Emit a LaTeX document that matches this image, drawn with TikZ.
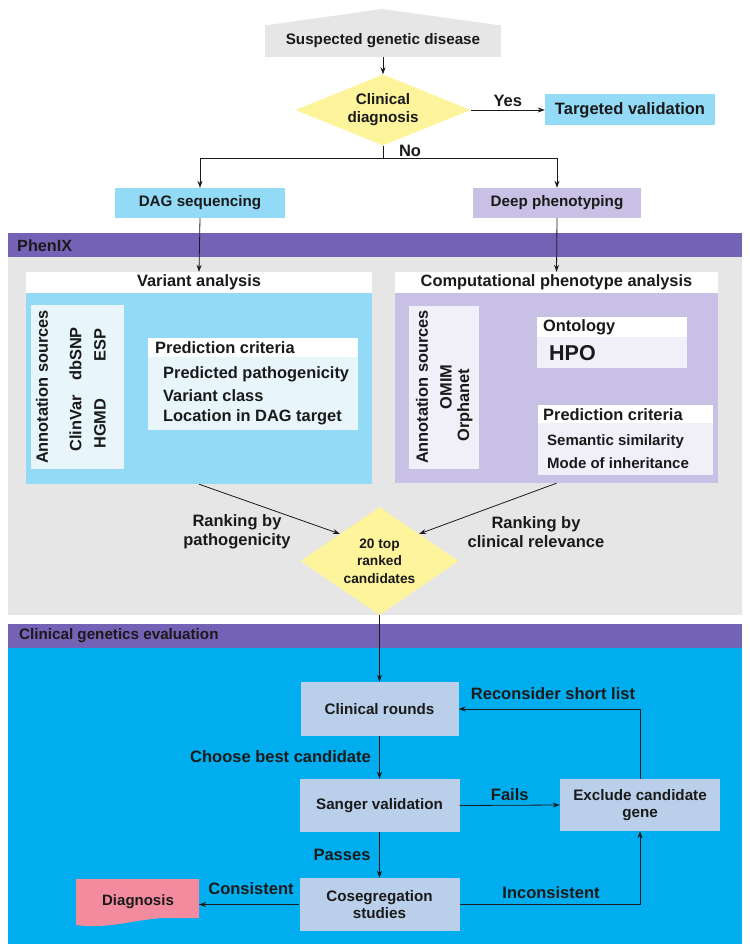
\documentclass[tikz,border=0pt]{standalone}
\usepackage{fontspec}
\setmainfont{Liberation Sans}
\usetikzlibrary{shapes.geometric,arrows.meta}
\definecolor{grayp}{HTML}{E6E6E6}
\definecolor{yel}{HTML}{FDF49C}
\definecolor{lblue}{HTML}{93DAF6}
\definecolor{lav}{HTML}{C9C1E5}
\definecolor{purp}{HTML}{7462B6}
\definecolor{pale}{HTML}{E8F6FC}
\definecolor{palelav}{HTML}{F1EFF8}
\definecolor{cyanp}{HTML}{00AEEF}
\definecolor{steel}{HTML}{B9CFEA}
\definecolor{pinkd}{HTML}{F38B9E}
\definecolor{txt}{HTML}{1A1A1A}
\begin{document}
\begin{tikzpicture}[x=1pt,y=-1pt,
  every node/.style={text=txt},
  box/.style={inner sep=0pt,align=center,font=\bfseries\fontsize{15.2}{17.5}\selectfont},
  lab/.style={inner sep=0pt,align=center,font=\bfseries\fontsize{16.5}{19}\selectfont},
  itxt/.style={inner sep=0pt,font=\bfseries\fontsize{16.4}{19}\selectfont},
  stxt/.style={inner sep=0pt,anchor=west,font=\bfseries\fontsize{15}{17}\selectfont},
  rtxt/.style={inner sep=0pt,rotate=90,font=\bfseries\fontsize{16.4}{19}\selectfont},
  dia/.style={shape=diamond,fill=yel,inner sep=0pt,align=center},
  arr/.style={-{Stealth[length=7pt,width=5pt]},line width=0.8pt,draw=txt},
  ln/.style={line width=0.8pt,draw=txt}
]
\useasboundingbox[fill=white] (0,0) rectangle (749,949);

% ---------- top section ----------
\fill[grayp] (265,25.5) -- (382,9) -- (501,25.5) -- cycle;
\node[box,fill=grayp,minimum width=236pt,minimum height=32pt] (sus) at (383,41) {Suspected genetic disease};
\node[dia,minimum width=175pt,minimum height=71pt,aspect=2.46,font=\bfseries\fontsize{15.2}{18}\selectfont] (cd) at (383,110) {Clinical\\diagnosis};
\node[box,fill=lblue,minimum width=170pt,minimum height=31pt,font=\bfseries\fontsize{16.5}{19}\selectfont] (tv) at (630,110) {Targeted validation};
\node[box,fill=lblue,minimum width=170pt,minimum height=30pt] (dag) at (200,203) {DAG sequencing};
\node[box,fill=lav,minimum width=168pt,minimum height=30pt] (deep) at (557,203) {Deep phenotyping};
\coordinate (nojoin) at (383,158);

% ---------- PhenIX panel ----------
\fill[purp] (8,233) rectangle (742,257);
\fill[grayp] (8,257) rectangle (742,615);
\node[itxt,anchor=west,font=\bfseries\fontsize{16.2}{19}\selectfont] (phx) at (17,245.5) {PhenIX};

% variant analysis
\node[itxt,fill=white,minimum width=346pt,minimum height=21pt] (vah) at (199,282.5) {Variant analysis};
\node[fill=lblue,inner sep=0pt,minimum width=346pt,minimum height=191pt] (vab) at (199,388.5) {};
\fill[pale] (31,305) rectangle (124,469);
\node[rtxt] (as1) at (42,387) {Annotation sources};
\node[rtxt,anchor=east] (dbsnp) at (75.5,327) {dbSNP};
\node[rtxt,anchor=west] (clinvar) at (75.5,452) {ClinVar};
\node[rtxt,anchor=east] (esp) at (100,328) {ESP};
\node[rtxt,anchor=west] (hgmd) at (100,449) {HGMD};
\fill[white] (148,338) rectangle (358,357);
\fill[pale] (148,357) rectangle (358,430);
\node[itxt,anchor=west] (pc1) at (155,348) {Prediction criteria};
\node[itxt,anchor=west] (pp) at (163,374) {Predicted pathogenicity};
\node[itxt,anchor=west] (vc) at (163,396) {Variant class};
\node[itxt,anchor=west] (loc) at (163,417) {Location in DAG target};

% computational phenotype analysis
\node[itxt,fill=white,minimum width=323pt,minimum height=21pt] (cph) at (556.5,282.5) {Computational phenotype analysis};
\node[fill=lav,inner sep=0pt,minimum width=323pt,minimum height=190pt] (cpb) at (556.5,388) {};
\fill[palelav] (409,306) rectangle (479,469);
\node[rtxt] (as2) at (422,387) {Annotation sources};
\node[rtxt] (omim) at (446,387) {OMIM};
\node[rtxt] (orph) at (465,405) {Orphanet};
\fill[white] (537,317) rectangle (687,337);
\fill[palelav] (537,337) rectangle (687,368);
\node[itxt,anchor=west] (ont) at (543,327.5) {Ontology};
\node[itxt,anchor=west,font=\bfseries\fontsize{21.5}{24}\selectfont] (hpo) at (549,353) {HPO};
\fill[white] (538,405) rectangle (713,423);
\fill[palelav] (538,423) rectangle (713,475);
\node[itxt,anchor=west] (pc2) at (543,414.5) {Prediction criteria};
\node[stxt] (sem) at (547,442) {Semantic similarity};
\node[stxt] (moi) at (547,463) {Mode of inheritance};

% ranking
\node[dia,minimum width=158pt,minimum height=108pt,aspect=1.46,font=\bfseries\fontsize{13.7}{17.5}\selectfont] (top) at (379.5,561) {20 top\\ranked\\candidates};
\node[lab] (rp) at (237,532) {Ranking by\\pathogenicity};
\node[lab] (rc) at (536,532) {Ranking by\\clinical relevance};

% ---------- clinical genetics evaluation ----------
\fill[purp] (8,624) rectangle (742,648);
\fill[cyanp] (8,648) rectangle (742,944);
\node[box,anchor=west] (cge) at (19,636) {Clinical genetics evaluation};

\node[box,fill=steel,minimum width=158pt,minimum height=54pt] (cr) at (379.5,709) {Clinical rounds};
\node[box,fill=steel,minimum width=160pt,minimum height=53pt] (sv) at (379.5,805.5) {Sanger validation};
\node[box,fill=steel,minimum width=160pt,minimum height=53pt] (cs) at (379.5,904.5) {Cosegregation\\studies};
\node[box,fill=steel,minimum width=160pt,minimum height=52pt] (ex) at (640,805) {Exclude candidate\\gene};
\fill[pinkd] (76,879) -- (199,879) -- (199,918) -- (172,918)
  .. controls (140,917) and (112,930) .. (76,925) -- cycle;
\node[box,font=\bfseries\fontsize{15}{17}\selectfont] (diag) at (138,902) {Diagnosis};
\coordinate (diagE) at (199,904.5);

% ---------- connectors ----------
\draw[arr] (sus.south) -- (cd.north);
\draw[arr] (cd.east) -- (tv.west) node[lab,midway,above=3pt] {Yes};
\draw[ln] (cd.south) -- (nojoin);
\draw[arr] (nojoin) -| (dag.north);
\draw[arr] (nojoin) -| (deep.north);
\node[lab] (no) at (410,151) {No};
\draw[arr] (dag.south) -- (vah.north);
\draw[arr] (deep.south) -- (cph.north);
\draw[arr] (vab.south) -- (top.north west);
\draw[arr] (cpb.south) -- (top.north east);
\draw[arr] (top.south) -- (cr.north);
\draw[arr] (cr.south) -- (sv.north);
\node[lab,anchor=east] at (371,757) {Choose best candidate};
\draw[arr] (sv.east) -- (ex.west) node[lab,midway,above=4pt] {Fails};
\draw[arr] (sv.south) -- (cs.north);
\node[lab] at (342,855) {Passes};
\draw[arr] (cs.west) -- (diagE);
\node[lab] at (251,889) {Consistent};
\draw[arr] (cs.east) -| (ex.south);
\node[lab] at (551,893) {Inconsistent};
\draw[arr] (ex.north) |- (cr.east);
\node[lab] at (553,694) {Reconsider short list};
\end{tikzpicture}
\end{document}
